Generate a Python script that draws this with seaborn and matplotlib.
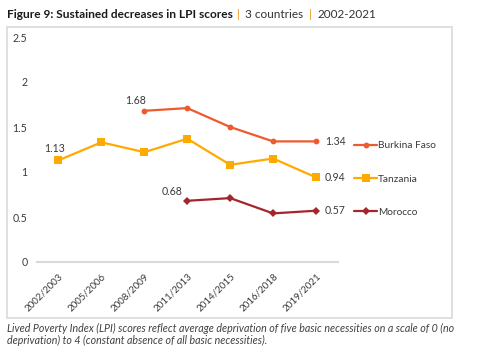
import numpy as np
import pandas as pd
import matplotlib
matplotlib.use("Agg")
import matplotlib.pyplot as plt
from matplotlib.patches import Rectangle
import seaborn as sns

periods = ["2002/2003", "2005/2006", "2008/2009", "2011/2013", "2014/2015", "2016/2018", "2019/2021"]
countries = ["Burkina Faso", "Tanzania", "Morocco"]
burkina = [np.nan, np.nan, 1.68, 1.71, 1.50, 1.34, 1.34]
tanzania = [1.13, 1.33, 1.22, 1.37, 1.08, 1.15, 0.94]
morocco = [np.nan, np.nan, np.nan, 0.68, 0.71, 0.54, 0.57]
yticks = [0, 0.5, 1, 1.5, 2, 2.5]

colors = {"Burkina Faso": "#EE5A2F", "Tanzania": "#FFAA00", "Morocco": "#A4262C"}
markers = {"Burkina Faso": "o", "Tanzania": "s", "Morocco": "D"}
msizes = {"Burkina Faso": 4.2, "Tanzania": 6.2, "Morocco": 4.5}

rows = []
for name, vals in zip(countries, [burkina, tanzania, morocco]):
    for i, v in enumerate(vals):
        if not np.isnan(v):
            rows.append({"country": name, "pos": i, "period": periods[i], "lpi": v})
df = pd.DataFrame(rows)

sns.set_style("white")
plt.rcParams["font.family"] = ["Lato", "DejaVu Sans"]
txt = "#3a3a3a"

fig = plt.figure(figsize=(4.91, 3.54), dpi=100)
W, H = 491, 354
ax = fig.add_axes([37 / W, 1 - 262 / H, (337.5 - 37) / W, (262 - 37) / H])

for name in countries:
    sub = df[df["country"] == name]
    sns.lineplot(data=sub, x="pos", y="lpi", ax=ax, color=colors[name],
                 marker=markers[name], markersize=msizes[name], markeredgewidth=0,
                 linewidth=1.6, label=name, sort=False)

# data labels at start and end of each series
starts = {"Burkina Faso": (-9, 10), "Tanzania": (-4, 12), "Morocco": (-15, 9)}
for name in countries:
    sub = df[df["country"] == name]
    first = sub.iloc[0]
    last = sub.iloc[-1]
    ax.annotate(f"{first['lpi']:.2f}", (first["pos"], first["lpi"]), textcoords="offset pixels",
                xytext=starts[name], ha="center", va="center", fontsize=7.6, color=txt)
    ax.annotate(f"{last['lpi']:.2f}", (last["pos"], last["lpi"]), textcoords="offset pixels",
                xytext=(9, 0), ha="left", va="center", fontsize=7.6, color=txt)

ax.set_xlim(-0.5, 6.5)
ax.set_ylim(0, 2.5)
ax.set_yticks(yticks)
ax.set_yticklabels([f"{t:g}" for t in yticks], fontsize=7.6, color=txt)
ax.set_xticks(range(len(periods)))
ax.set_xticklabels(periods, rotation=45, ha="right", rotation_mode="anchor", fontsize=7, color=txt)
ax.tick_params(axis="x", length=0, pad=7)
ax.tick_params(axis="y", length=0, pad=7)
ax.set_xlabel("")
ax.set_ylabel("")
for s in ["top", "right", "left"]:
    ax.spines[s].set_visible(False)
ax.spines["bottom"].set_color("#D9D9D9")
ax.spines["bottom"].set_linewidth(1.5)
ax.patch.set_alpha(0)

leg = ax.legend(loc="upper left", bbox_to_anchor=(354 / W, 1 - 141 / H), bbox_transform=fig.transFigure,
                frameon=False, fontsize=7.3, handlelength=2.3, handletextpad=0.1,
                labelspacing=2.4, borderpad=0, borderaxespad=0)
for t in leg.get_texts():
    t.set_color(txt)

# outer frame
fig.patches.append(Rectangle((7 / W, 1 - 318 / H), (452 - 7) / W, (318 - 27) / H,
                             transform=fig.transFigure, fill=False, edgecolor="#D9D9D9", linewidth=1.2))

renderer = fig.canvas.get_renderer()


def fit_width(t, target_px):
    # scale the font so the text spans the same width as in the reference
    w = t.get_window_extent(renderer=renderer).width
    t.set_fontsize(t.get_fontsize() * target_px / w)
    return t.get_window_extent(renderer=renderer)


# title: bold part, then grey parts split by orange bars
ty = 1 - 15 / H
t1 = fig.text(7 / W, ty, "Figure 9: Sustained decreases in LPI scores", fontsize=8.4,
              fontweight="bold", color="#1a1a1a", va="center", ha="left")
fit_width(t1, 225)
t2 = fig.text(245 / W, ty, "3 countries", fontsize=8.2, color="#333333", va="center", ha="left")
fit_width(t2, 58)
fs = t2.get_fontsize()
fig.text(317 / W, ty, "2002-2021", fontsize=fs, color="#333333", va="center", ha="left")
for px in [238, 310]:
    fig.text(px / W, ty, "|", fontsize=fs, color="#F0A030", va="center", ha="center")

c1 = fig.text(7 / W, 1 - 328 / H,
              "Lived Poverty Index (LPI) scores reflect average deprivation of five basic necessities on a scale of 0 (no",
              fontsize=7.2, style="italic", color="#404040", va="center", ha="left")
fit_width(c1, 446)
c2 = fig.text(7 / W, 1 - 340 / H, "deprivation) to 4 (constant absence of all basic necessities).",
              fontsize=c1.get_fontsize(), style="italic", color="#404040", va="center", ha="left")

fig.savefig("out.png", dpi=100)
